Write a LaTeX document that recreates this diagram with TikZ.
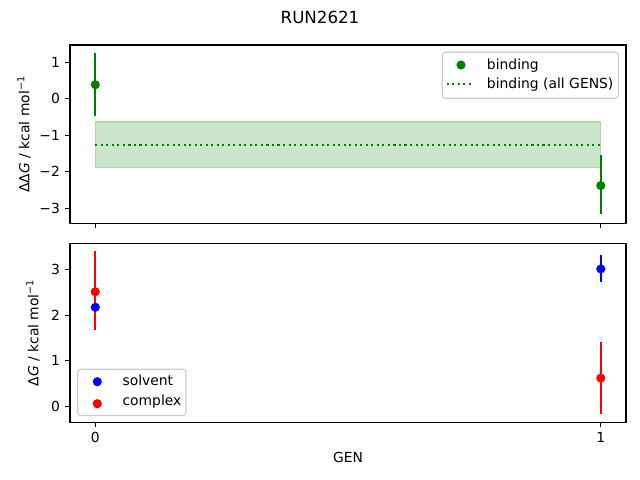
\documentclass[tikz,border=0pt]{standalone}
\usepackage{fontspec}
\setmainfont{DejaVu Sans}
\definecolor{mplgreen}{RGB}{0,128,0}
\definecolor{bandgreen}{RGB}{204,230,204}
\definecolor{bandedge}{RGB}{178,214,178}
\definecolor{legedge}{RGB}{204,204,204}
\begin{document}
\begin{tikzpicture}[x=0.72pt,y=-0.72pt,font=\fontsize{10}{12}\selectfont,
  frame/.style={line width=0.8pt},
  errbar/.style={line width=1.5pt},
  dot/.style={circle,inner sep=0pt,minimum size=6.6pt},
  legbox/.style={draw=legedge,fill=white,fill opacity=0.8,line width=0.8pt,rounded corners=2pt},
  legtext/.style={anchor=base west,inner sep=0pt}]
\useasboundingbox (0,0) rectangle (640,480);

% title
\node[font=\fontsize{12}{14}\selectfont] (title) at (320,17) {RUN2621};

% upper panel
\begin{scope}[shift={(95.3,98.9)},x=363.96pt,y=26.21pt]
  \fill[bandgreen] (0,-0.635) rectangle (1,-1.88);
  \draw[bandedge,line width=0.8pt] (0,-0.635) rectangle (1,-1.88);
  \draw[mplgreen,line width=1.5pt,dash pattern=on 1.5pt off 2.475pt] (0,-1.26) -- (1,-1.26);
  \draw[errbar,mplgreen] (0,-0.48) -- (0,1.27);
  \draw[errbar,mplgreen] (1,-3.17) -- (1,-1.54);
  \node[dot,fill=mplgreen] (bind0) at (0,0.39) {};
  \node[dot,fill=mplgreen] (bind1) at (1,-2.38) {};
\end{scope}
\draw[frame] (70,45) rectangle (626,223.3);
\foreach \v/\t in {1/1,0/0,-1/−1,-2/−2,-3/−3}
  \draw[frame] (70,{98.9-36.4*\v}) -- ++(-4.86,0) node[left]{\t};
\foreach \u in {95.3,600.8}
  \draw[frame] (\u,223.3) -- ++(0,4.86);
\node[rotate=90] (ylabA) at (24,134.2) {ΔΔ\textit{G} / kcal mol\textsuperscript{−1}};

% legend upper
\draw[legbox] (442.3,52.3) rectangle (618.3,98.3);
\node[dot,fill=mplgreen] (legbind) at (461,65) {};
\draw[mplgreen,line width=1.5pt,dash pattern=on 1.5pt off 2.475pt] (446.7,84.3) -- (474.3,84.3);
\node[legtext] (legbindt) at (486.7,69) {binding};
\node[legtext] (legallt) at (486.7,88.3) {binding (all GENS)};

% lower panel
\begin{scope}[shift={(95.3,406.4)},x=363.96pt,y=32.88pt]
  \draw[errbar,red] (0,1.68) -- (0,3.40);
  \draw[errbar,blue] (1,2.73) -- (1,3.31);
  \draw[errbar,red] (1,-0.16) -- (1,1.40);
  \node[dot,fill=blue] (solv0) at (0,2.17) {};
  \node[dot,fill=blue] (solv1) at (1,3.01) {};
  \node[dot,fill=red] (cplx0) at (0,2.51) {};
  \node[dot,fill=red] (cplx1) at (1,0.62) {};
\end{scope}
\draw[frame] (70,243.3) rectangle (626,422.3);
\foreach \v in {0,1,2,3}
  \draw[frame] (70,{406.4-45.67*\v}) -- ++(-4.86,0) node[left]{\v};
\foreach \u/\t in {95.3/0,600.8/1}
  \draw[frame] (\u,422.3) -- ++(0,4.86) node[below,inner sep=0pt,yshift=-4.86*0.72pt]{\t};
\node[rotate=90] (ylabB) at (33,332.8) {Δ\textit{G} / kcal mol\textsuperscript{−1}};
\node (xlab) at (348,457) {GEN};

% legend lower
\draw[legbox] (77.7,369.3) rectangle (186,415.3);
\node[dot,fill=blue] (legsolv) at (97.3,381.7) {};
\node[dot,fill=red] (legcplx) at (97.3,403.7) {};
\node[legtext] (legsolvt) at (122.3,385) {solvent};
\node[legtext] (legcplxt) at (122.3,405.7) {complex};
\end{tikzpicture}
\end{document}
